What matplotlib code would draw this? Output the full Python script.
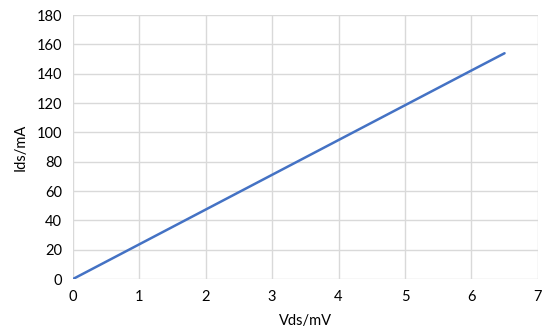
import matplotlib.pyplot as plt

# datos
vds = [0, 1, 2, 3, 4, 5, 6, 6.5]
ids = [0, 23.7, 47.4, 71.1, 94.8, 118.5, 142.2, 154.0]

plt.rcParams['font.family'] = ['Lato', 'DejaVu Sans']

fig = plt.figure(figsize=(5.5, 3.36), dpi=100)
ax = fig.add_axes([0.1327, 0.1696, 0.845, 0.7854])

ax.plot(vds, ids, color='#4472c4', linewidth=1.8, solid_capstyle='round')

ax.set_xlim(0, 7)
ax.set_ylim(0, 180)
ax.set_xticks(range(0, 8))
ax.set_yticks(range(0, 181, 20))
ax.grid(True, color='#d9d9d9', linewidth=1.0)
ax.set_axisbelow(True)
for s in ax.spines.values():
    s.set_visible(False)
ax.tick_params(length=0, labelsize=10.5, colors='black', pad=8)

ax.set_xlabel('Vds/mV', fontsize=10.5, labelpad=7)
ax.set_ylabel('Ids/mA', fontsize=10.5, labelpad=6)

fig.savefig('out.png', dpi=100)
